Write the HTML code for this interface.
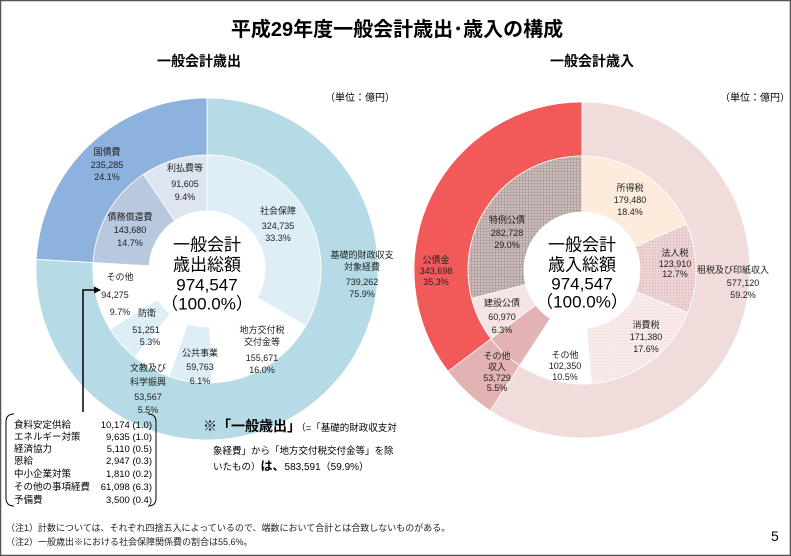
<!DOCTYPE html>
<html><head><meta charset="utf-8">
<style>
html,body{margin:0;padding:0;background:#fff;}
svg{display:block;}
text{font-family:"Liberation Sans","Noto Sans CJK JP",sans-serif;}
</style></head><body>
<svg id="s" width="791" height="556" viewBox="0 0 791 556" xmlns="http://www.w3.org/2000/svg">
<defs>
<pattern id="hatch" width="3" height="3" patternUnits="userSpaceOnUse">
<rect width="3" height="3" fill="#cbbcbc"/><path d="M0 0.5H3M0.5 0V3" stroke="#a89494" stroke-width="0.6"/>
</pattern>
<pattern id="dots" width="3" height="3" patternUnits="userSpaceOnUse">
<rect width="3" height="3" fill="#ecd2d2"/><rect x="1" y="1" width="1" height="1" fill="#d8b2b2"/>
</pattern>
<pattern id="dots2" width="3" height="3" patternUnits="userSpaceOnUse">
<rect width="3" height="3" fill="#f9eaea"/><rect x="1" y="1" width="1" height="1" fill="#efd6d6"/>
</pattern>
</defs>
<rect x="0.5" y="0.5" width="790" height="555" fill="#fff" stroke="#555" stroke-width="1.5"/>
<g id="charts"></g>

<g text-anchor="middle" font-weight="bold" fill="#000">
<text x="397" y="36" font-size="20">平成29年度一般会計歳出･歳入の構成</text>
<text x="199" y="66" font-size="14">一般会計歳出</text>
<text x="592" y="66" font-size="14">一般会計歳入</text>
</g>
<g font-size="10" fill="#000">
<text x="325" y="101">（単位：億円）</text>
<text x="720" y="101">（単位：億円）</text>
</g>

<g font-size="9" text-anchor="middle" dominant-baseline="central" fill="#222">
<text x="107" y="152">国債費</text><text x="107" y="165">235,285</text><text x="107" y="177">24.1%</text>
<text x="185" y="168">利払費等</text><text x="185" y="184">91,605</text><text x="185" y="197">9.4%</text>
<text x="130" y="217">債務償還費</text><text x="130" y="230">143,680</text><text x="130" y="243">14.7%</text>
<text x="278" y="211">社会保障</text><text x="278" y="226">324,735</text><text x="278" y="238">33.3%</text>
<text x="362" y="255">基礎的財政収支</text><text x="362" y="267">対象経費</text><text x="362" y="282">739,262</text><text x="362" y="294">75.9%</text>
<text x="120" y="277">その他</text><text x="115" y="295">94,275</text><text x="120" y="312">9.7%</text>
<text x="147" y="313">防衛</text><text x="146" y="330">51,251</text><text x="150" y="342">5.3%</text>
<text x="262" y="330">地方交付税</text><text x="262" y="342">交付金等</text><text x="262" y="358">155,671</text><text x="262" y="370">16.0%</text>
<text x="200" y="353">公共事業</text><text x="200" y="367">59,763</text><text x="200" y="381">6.1%</text>
<text x="148" y="368">文教及び</text><text x="148" y="382">科学振興</text><text x="148" y="397">53,567</text><text x="148" y="410">5.5%</text>

<text x="630" y="188">所得税</text><text x="630" y="200">179,480</text><text x="630" y="212">18.4%</text>
<text x="675" y="253">法人税</text><text x="675" y="264">123,910</text><text x="675" y="274">12.7%</text>
<text x="733" y="270">租税及び印紙収入</text><text x="743" y="283">577,120</text><text x="743" y="295">59.2%</text>
<text x="646" y="325">消費税</text><text x="646" y="337">171,380</text><text x="646" y="349">17.6%</text>
<text x="565" y="355">その他</text><text x="565" y="366">102,350</text><text x="565" y="377">10.5%</text>
<text x="497" y="356">その他</text><text x="497" y="367">収入</text><text x="497" y="378">53,729</text><text x="497" y="388">5.5%</text>
<text x="502" y="303">建設公債</text><text x="502" y="317">60,970</text><text x="502" y="330">6.3%</text>
<text x="507" y="220">特例公債</text><text x="507" y="233">282,728</text><text x="507" y="245">29.0%</text>
<text x="436" y="260">公債金</text><text x="436" y="271">343,698</text><text x="436" y="282">35.3%</text>
</g>

<g font-size="17" text-anchor="middle" dominant-baseline="central" fill="#000">
<text x="207" y="245">一般会計</text><text x="207" y="265">歳出総額</text><text x="207" y="285">974,547</text><text x="207" y="304">（100.0%）</text>
<text x="582" y="245">一般会計</text><text x="582" y="265">歳入総額</text><text x="582" y="284">974,547</text><text x="582" y="302">（100.0%）</text>
</g>

<path d="M83 412V290H96" fill="none" stroke="#000" stroke-width="1.5"/>
<path d="M101 290L94 286.5V293.5Z" fill="#000"/>
<path d="M14 414Q6 414 6 422V498Q6 506 14 506M148 414Q156 414 156 422V498Q156 506 148 506" fill="none" stroke="#000" stroke-width="1"/>
<g font-size="9.5" fill="#000">
<text x="14" y="428">食料安定供給</text><text x="152" y="428" text-anchor="end">10,174 (1.0)</text>
<text x="14" y="440">エネルギー対策</text><text x="152" y="440" text-anchor="end">9,635 (1.0)</text>
<text x="14" y="452">経済協力</text><text x="152" y="452" text-anchor="end">5,110 (0.5)</text>
<text x="14" y="464">恩給</text><text x="152" y="464" text-anchor="end">2,947 (0.3)</text>
<text x="14" y="477">中小企業対策</text><text x="152" y="477" text-anchor="end">1,810 (0.2)</text>
<text x="14" y="490">その他の事項経費</text><text x="152" y="490" text-anchor="end">61,098 (6.3)</text>
<text x="14" y="503">予備費</text><text x="152" y="503" text-anchor="end">3,500 (0.4)</text>
</g>
<g fill="#000">
<text x="203" y="431" font-size="14" font-weight="bold">※「一般歳出」<tspan font-size="9.5" font-weight="normal">（=「基礎的財政収支対</tspan></text>
<text x="213" y="454" font-size="9.5">象経費」から「地方交付税交付金等」を除</text>
<text x="213" y="470" font-size="9.5">いたもの）<tspan font-size="12" font-weight="bold">は、</tspan><tspan font-size="10">583,591（59.9%）</tspan></text>
</g>
<g font-size="9" fill="#222">
<text x="6" y="531">（注1）計数については、それぞれ四捨五入によっているので、端数において合計とは合致しないものがある。</text>
<text x="6" y="545">（注2）一般歳出※における社会保障関係費の割合は55.6%。</text>
</g>
<text x="771" y="541" font-size="14" fill="#000">5</text>
</svg>
<script>
(function(){
var g=document.getElementById('charts');var NS='http://www.w3.org/2000/svg';
function pt(cx,cy,r,a){var t=(a-90)*Math.PI/180;return [cx+r*Math.cos(t),cy+r*Math.sin(t)];}
function sector(cx,cy,r0,r1,a0,a1,fill){
 var p=document.createElementNS(NS,'path');var la=(a1-a0)>180?1:0;
 var A=pt(cx,cy,r1,a0),B=pt(cx,cy,r1,a1),C=pt(cx,cy,r0,a1),D=pt(cx,cy,r0,a0);
 p.setAttribute('d','M'+A+'A'+r1+' '+r1+' 0 '+la+' 1 '+B+'L'+C+'A'+r0+' '+r0+' 0 '+la+' 0 '+D+'Z');
 p.setAttribute('fill',fill);p.setAttribute('stroke','#fff');p.setAttribute('stroke-width','0.8');g.appendChild(p);}
function ring(cx,cy,r0,r1,start,list){var a=start;list.forEach(function(s){var e=a+s[0]*3.6;sector(cx,cy,r0,r1,a,e,s[1]);a=e;});}
var cx=207,cy=269,R=171,M=114,I=58;
ring(cx,cy,M,R,0,[[75.9,'#b6dbe6'],[24.1,'#8db2de']]);
ring(cx,cy,I,M,0,[[33.3,'#ddeef6'],[16.0,'#ffffff'],[6.1,'#ddeef6'],[5.5,'#ffffff'],[5.3,'#ddeef6'],[9.7,'#ffffff'],[14.7,'#b8c8df'],[9.4,'#dde5f1']]);
cx=582;cy=270;R=168;
ring(cx,cy,M,R,0,[[59.2,'#f1dcdc'],[5.5,'#e3b3b3'],[35.3,'#f25a5a']]);
ring(cx,cy,I,M,0,[[18.4,'#fdebdc'],[12.7,'url(#dots)'],[17.6,'url(#dots2)'],[10.5,'#ffffff'],[5.5,'#e3b3b3'],[6.3,'#f6e3e3'],[29.0,'url(#hatch)']]);
})();
</script>
</body></html>
